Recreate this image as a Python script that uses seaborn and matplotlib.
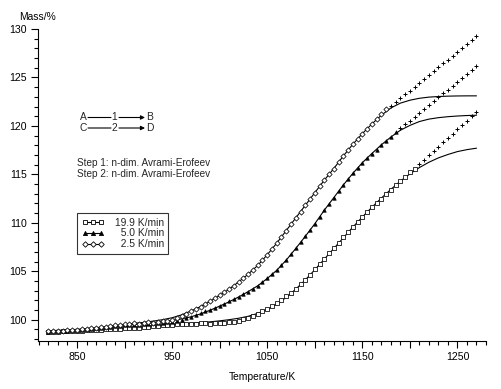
import matplotlib
matplotlib.use("Agg")
import matplotlib.pyplot as plt
import seaborn as sns
import pandas as pd
from matplotlib.lines import Line2D
from matplotlib.ticker import MultipleLocator, FuncFormatter

# Measured TG data, 5 K steps from 820 to 1270 K
temp = list(range(820, 1275, 5))

mass_2_5 = [98.80, 98.82, 98.85, 98.88, 98.90, 98.95, 98.98, 99.02, 99.05, 99.10,
            99.15, 99.20, 99.28, 99.35, 99.40, 99.50, 99.55, 99.60, 99.65, 99.55,
            99.70, 99.75, 99.70, 99.80, 99.85, 99.90, 100.00, 100.20, 100.40, 100.60,
            100.85, 101.10, 101.35, 101.65, 101.95, 102.25, 102.55, 102.85, 103.15, 103.50,
            103.90, 104.30, 104.70, 105.15, 105.60, 106.15, 106.70, 107.30, 107.90, 108.55,
            109.20, 109.85, 110.50, 111.15, 111.80, 112.45, 113.10, 113.75, 114.40, 115.00,
            115.60, 116.25, 116.90, 117.50, 118.10, 118.65, 119.20, 119.70, 120.20, 120.70,
            121.20, 121.70, 122.05, 122.45, 122.85, 123.25, 123.65, 124.05, 124.45, 124.85,
            125.25, 125.65, 126.05, 126.45, 126.85, 127.25, 127.65, 128.05, 128.45, 128.85,
            129.25]

mass_5_0 = [98.78, 98.80, 98.83, 98.85, 98.88, 98.90, 98.93, 98.96, 99.00, 99.05,
            99.10, 99.15, 99.20, 99.25, 99.30, 99.35, 99.40, 99.45, 99.45, 99.50,
            99.55, 99.60, 99.62, 99.65, 99.70, 99.75, 99.80, 99.90, 100.00, 100.15,
            100.30, 100.45, 100.65, 100.85, 101.05, 101.25, 101.45, 101.65, 101.90, 102.10,
            102.35, 102.60, 102.85, 103.15, 103.50, 103.90, 104.30, 104.70, 105.15, 105.65,
            106.20, 106.80, 107.40, 108.00, 108.60, 109.25, 109.90, 110.60, 111.30, 111.95,
            112.60, 113.25, 113.90, 114.50, 115.10, 115.65, 116.20, 116.65, 117.10, 117.55,
            118.00, 118.45, 118.90, 119.35, 119.75, 120.15, 120.55, 120.95, 121.35, 121.75,
            122.15, 122.55, 122.95, 123.35, 123.75, 124.15, 124.55, 124.95, 125.35, 125.75,
            126.15]

mass_19_9 = [98.75, 98.76, 98.78, 98.80, 98.82, 98.84, 98.85, 98.87, 98.90, 98.92,
             98.95, 98.97, 99.00, 99.02, 99.05, 99.08, 99.10, 99.13, 99.15, 99.18,
             99.20, 99.25, 99.30, 99.35, 99.40, 99.45, 99.50, 99.52, 99.55, 99.58,
             99.60, 99.60, 99.62, 99.62, 99.60, 99.62, 99.65, 99.68, 99.72, 99.80,
             99.90, 100.05, 100.20, 100.40, 100.60, 100.85, 101.10, 101.40, 101.70, 102.05,
             102.40, 102.80, 103.20, 103.65, 104.10, 104.65, 105.20, 105.75, 106.30, 106.85,
             107.40, 107.95, 108.50, 109.05, 109.60, 110.10, 110.60, 111.10, 111.60, 112.05,
             112.50, 112.95, 113.40, 113.85, 114.30, 114.75, 115.20, 115.60, 116.05, 116.50,
             116.95, 117.40, 117.85, 118.30, 118.75, 119.20, 119.65, 120.10, 120.55, 121.00,
             121.45]

# last temperature used for the fit, later points drawn as "+"
fit_end = {"2.5": 1175, "5.0": 1185, "19.9": 1205}

# Fitted curves (n-dim. Avrami-Erofeev), 10 K steps
temp_fit = list(range(820, 1280, 10))

fit_2_5 = [98.85, 98.90, 98.95, 99.00, 99.08, 99.17, 99.28, 99.40, 99.50, 99.62,
           99.72, 99.85, 100.00, 100.20, 100.50, 100.90, 101.35, 101.90, 102.50, 103.15,
           103.90, 104.70, 105.60, 106.70, 107.90, 109.20, 110.50, 111.80, 113.10, 114.40,
           115.60, 116.90, 118.10, 119.20, 120.20, 121.10, 121.85, 122.35, 122.65, 122.85,
           122.97, 123.03, 123.07, 123.09, 123.10, 123.10]

fit_5_0 = [98.80, 98.84, 98.88, 98.93, 99.00, 99.08, 99.17, 99.27, 99.38, 99.50,
           99.60, 99.70, 99.80, 99.92, 100.08, 100.30, 100.60, 100.98, 101.40, 101.85,
           102.35, 102.90, 103.50, 104.25, 105.10, 106.15, 107.35, 108.60, 109.90, 111.30,
           112.60, 113.90, 115.10, 116.20, 117.15, 118.05, 118.85, 119.55, 120.05, 120.45,
           120.70, 120.85, 120.95, 121.02, 121.07, 121.10]

fit_19_9 = [98.75, 98.78, 98.82, 98.86, 98.90, 98.95, 99.00, 99.06, 99.12, 99.18,
            99.25, 99.32, 99.40, 99.47, 99.55, 99.62, 99.70, 99.78, 99.88, 100.00,
            100.15, 100.35, 100.65, 101.05, 101.60, 102.30, 103.15, 104.10, 105.15, 106.25,
            107.35, 108.45, 109.55, 110.60, 111.60, 112.55, 113.45, 114.30, 115.05, 115.70,
            116.25, 116.70, 117.05, 117.35, 117.55, 117.70]

series = [
    ("19.9", mass_19_9, fit_19_9, "s", "white"),
    ("5.0", mass_5_0, fit_5_0, "^", "black"),
    ("2.5", mass_2_5, fit_2_5, "D", "white"),
]

sns.set_theme(style="white")
plt.rcParams["font.family"] = ["Liberation Sans", "DejaVu Sans"]

fig, ax = plt.subplots(figsize=(5.01, 3.89), dpi=100)
fig.subplots_adjust(left=38 / 501, right=486 / 501, bottom=1 - 341 / 389, top=1 - 29 / 389)

handles = []
labels = []
for rate, mass, fit, mk, fc in series:
    df = pd.DataFrame({"T": temp, "m": mass})
    used = df[df["T"] <= fit_end[rate]]
    rest = df[df["T"] > fit_end[rate]]
    sns.lineplot(x=temp_fit, y=fit, color="black", lw=0.8, ax=ax, zorder=2)
    msize = {"s": 9, "^": 6, "D": 7}[mk]
    sns.scatterplot(data=used, x="T", y="m", marker=mk, s=msize, facecolor=fc,
                    edgecolor="black", linewidth=0.55, ax=ax, zorder=3)
    sns.scatterplot(data=rest, x="T", y="m", marker="+", s=9, color="black",
                    linewidth=0.7, ax=ax, zorder=3)
    handles.append(Line2D([], [], color="black", lw=0.8, marker=mk,
                          ms={"s": 3.2, "^": 3.0, "D": 2.8}[mk],
                          mfc=fc, mec="black", mew=0.6))
    labels.append(("  " if len(rate) == 3 else "") + rate + " K/min")

ax.set_xlim(809, 1280)
ax.set_ylim(97.8, 130)

ax.xaxis.set_major_locator(MultipleLocator(50))
ax.xaxis.set_minor_locator(MultipleLocator(10))
ax.xaxis.set_major_formatter(FuncFormatter(lambda v, p: f"{v:.0f}" if round(v) % 100 == 50 else ""))
ax.yaxis.set_major_locator(MultipleLocator(5))
ax.yaxis.set_minor_locator(MultipleLocator(1))

ax.tick_params(which="both", direction="out", bottom=True, left=True, color="black",
               width=0.8, labelsize=7.6, labelcolor="black")
ax.tick_params(which="major", length=5, pad=3)
ax.tick_params(which="minor", length=3)

for side in ["top", "right"]:
    ax.spines[side].set_visible(False)
for side in ["left", "bottom"]:
    ax.spines[side].set_color("black")
    ax.spines[side].set_linewidth(0.8)

ax.set_xlabel("Temperature/K", fontsize=7.4, color="black")
ax.xaxis.set_label_coords(0.5, (341 - 372) / 312)
ax.set_ylabel("")
ax.text(0.0, (341 - 17) / 312, "Mass/%", transform=ax.transAxes, ha="center", va="center",
        fontsize=7.4, color="black")

leg = ax.legend(handles, labels, loc="upper left", bbox_to_anchor=((77 - 38) / 448, (341 - 213) / 312),
                borderaxespad=0, numpoints=3, handlelength=2.2, handletextpad=1.0,
                labelspacing=0.08, borderpad=0.45, fontsize=7.4, frameon=True, fancybox=False)
leg.get_frame().set_edgecolor("black")
leg.get_frame().set_linewidth(0.8)

# reaction scheme
for row, (a, n, b) in enumerate([("A", "1", "B"), ("C", "2", "D")]):
    py = 389 - (117.5 + row * 10.5)
    ax.annotate(a, xy=(83.5, py), xycoords="figure pixels", ha="center", va="center", fontsize=7.4)
    ax.annotate(n, xy=(114.5, py), xycoords="figure pixels", ha="center", va="center", fontsize=7.4)
    ax.annotate(b, xy=(149.5, py), xycoords="figure pixels", ha="center", va="center", fontsize=7.4)
    ax.annotate("", xy=(111, py), xytext=(88, py), xycoords="figure pixels",
                arrowprops=dict(arrowstyle="-", lw=0.8, color="black", shrinkA=0, shrinkB=0))
    ax.annotate("", xy=(145, py), xytext=(119, py), xycoords="figure pixels",
                arrowprops=dict(arrowstyle="-|>", lw=0.8, color="black", shrinkA=0, shrinkB=0,
                                mutation_scale=6))

ax.annotate("Step 1: n-dim. Avrami-Erofeev", xy=(77, 389 - 163), xycoords="figure pixels",
            ha="left", va="center", fontsize=7.2)
ax.annotate("Step 2: n-dim. Avrami-Erofeev", xy=(77, 389 - 174), xycoords="figure pixels",
            ha="left", va="center", fontsize=7.2)

fig.savefig("out.png", dpi=100)
